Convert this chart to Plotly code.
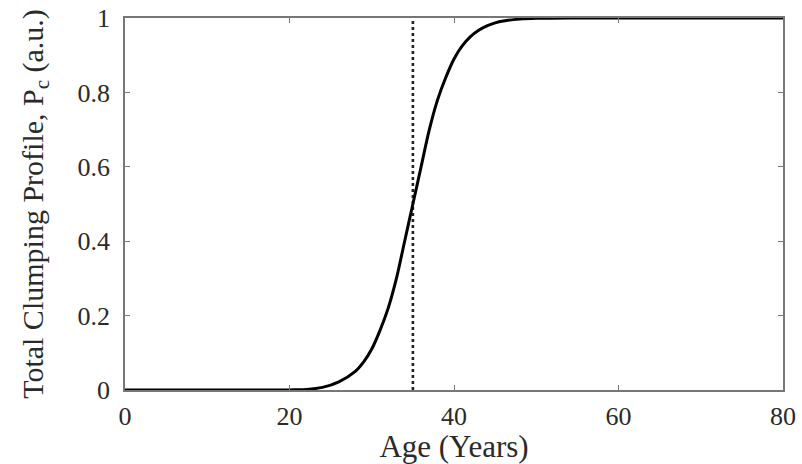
import plotly.graph_objects as go

# Values
age = [0, 5, 10, 15, 20, 22, 24, 26, 28, 29, 30, 31, 32, 33, 34, 35, 36, 37, 38,
       39, 40, 41, 42, 43, 44, 45, 46, 48, 50, 55, 60, 70, 80]
clumping = [0, 0, 0, 0, 0.0003, 0.0015, 0.007, 0.022, 0.05, 0.075, 0.11, 0.16, 0.22,
            0.30, 0.40, 0.50, 0.60, 0.70, 0.78, 0.84, 0.89, 0.925, 0.95, 0.967, 0.979,
            0.987, 0.992, 0.997, 0.999, 1, 1, 1, 1]
marker_age = [35, 35]
marker_level = [0, 1]

x_ticks = [0, 20, 40, 60, 80]
y_ticks = [0, 0.2, 0.4, 0.6, 0.8, 1]
y_tick_text = ["0", "0.2", "0.4", "0.6", "0.8", "1"]

fig = go.Figure()
fig.add_trace(go.Scatter(x=marker_age, y=marker_level, mode="lines",
                         line=dict(color="#222", width=2.6, dash="dot"),
                         showlegend=False, hoverinfo="skip"))
fig.add_trace(go.Scatter(x=age, y=clumping, mode="lines", line_shape="spline",
                         line=dict(color="black", width=3), showlegend=False))

font = "Liberation Serif, Times New Roman, serif"
axis_common = dict(showline=True, linecolor="#777", linewidth=1.5, mirror="ticks",
                   ticks="inside", ticklen=5, tickcolor="#777", showgrid=False,
                   zeroline=False, automargin=False,
                   tickfont=dict(family=font, size=26, color="#2a2a2a"))

fig.update_xaxes(range=[0, 80], tickvals=x_ticks, ticklabelstandoff=2, **axis_common,
                 title=dict(text="Age (Years)", font=dict(family=font, size=31, color="#2a2a2a"),
                            standoff=0))
fig.update_yaxes(range=[0, 1], tickvals=y_ticks, ticktext=y_tick_text, ticklabelstandoff=8,
                 **axis_common,
                 title=dict(text="Total Clumping Profile, P<sub>c</sub> (a.u.)",
                            font=dict(family=font, size=30, color="#2a2a2a"), standoff=25))

fig.update_layout(width=802, height=464, plot_bgcolor="white", paper_bgcolor="white",
                  margin=dict(l=125, r=19, t=18, b=74))

fig.write_html("out.html", config={"displayModeBar": False},
               post_script="document.body.style.margin='0';document.body.style.overflow='hidden';")
